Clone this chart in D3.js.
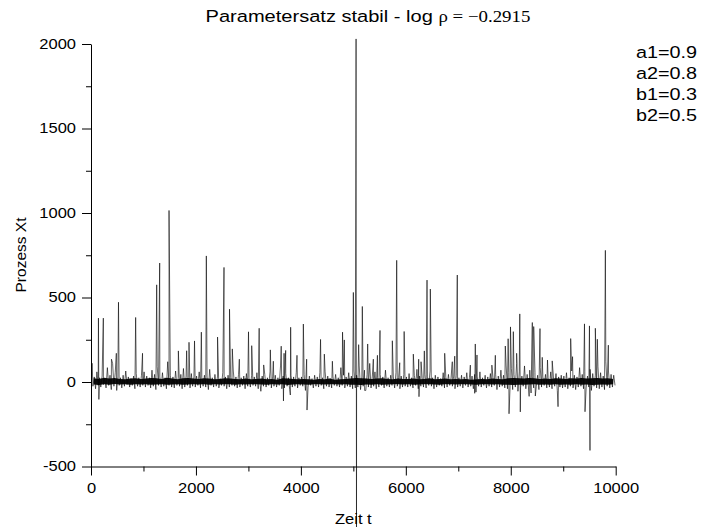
<!DOCTYPE html>
<html><head><meta charset="utf-8">
<script src="https://cdn.jsdelivr.net/npm/d3@7"></script>
<style>html,body{margin:0;padding:0;background:#fff;}svg{display:block;}</style>
</head><body>
<svg id="chart" width="702" height="527"></svg>
<script>
// ---- data ----
const title = "Parametersatz stabil - log ";
const titleMath = "\u03C1 = \u22120.2915";
const paramLabels = ["a1=0.9", "a2=0.8", "b1=0.3", "b2=0.5"];
const xTickLabels = [0, 2000, 4000, 6000, 8000, 10000];
const yTickLabels = [-500, 0, 500, 1000, 1500, 2000];
const binStep = 50;   // time units per envelope bin
const coreStep = 100; // time units per core-band bin
// upper envelope of the noise band per 50-step bin
const bandHi = [
45,30,60,25,35,20,85,40,110,55,30,25,40,65,30,20,35,50,25,40,
60,35,25,70,45,90,30,55,25,120,40,30,65,25,45,80,35,25,50,30,
35,60,25,40,30,75,25,45,35,20,55,30,40,25,65,30,45,25,35,50,
25,40,30,55,20,35,45,25,60,30,40,25,95,35,50,25,40,30,55,25,
30,45,25,35,20,40,30,55,25,60,35,20,30,45,25,85,40,30,55,35,
65,40,95,30,70,45,110,35,60,25,45,30,70,25,40,30,55,25,35,45,
30,50,25,40,75,35,25,45,30,65,25,40,30,20,55,30,45,25,35,40,
25,40,30,55,25,35,45,30,60,25,40,30,50,25,45,35,70,40,95,55,
80,45,110,60,35,95,45,70,30,55,40,85,30,45,25,60,35,50,30,40,
35,55,25,65,40,30,85,45,60,35,75,50,40,90,55,35,120,65,45,40];
// lower envelope of the noise band per 50-step bin
const bandLo = [
-25,-40,-20,-30,-15,-35,-20,-45,-25,-30,-20,-35,-25,-15,-30,-20,-40,-25,-30,-20,
-30,-20,-35,-25,-45,-20,-30,-25,-40,-20,-30,-35,-20,-25,-40,-30,-20,-35,-25,-30,
-20,-35,-25,-30,-45,-20,-30,-25,-35,-20,-25,-40,-30,-20,-25,-35,-30,-20,-40,-25,
-30,-20,-25,-40,-55,-25,-30,-20,-35,-25,-30,-20,-40,-35,-25,-45,-30,-25,-35,-20,
-25,-50,-30,-20,-35,-25,-30,-20,-40,-25,-30,-35,-20,-25,-30,-20,-35,-25,-30,-40,
-35,-30,-45,-25,-50,-30,-35,-25,-40,-30,-20,-35,-25,-30,-20,-35,-25,-40,-30,-25,
-30,-25,-35,-20,-40,-25,-30,-35,-20,-25,-40,-30,-20,-25,-35,-30,-20,-25,-40,-30,
-25,-35,-20,-30,-25,-40,-60,-25,-30,-20,-35,-25,-30,-20,-45,-30,-25,-35,-40,-30,
-45,-30,-55,-35,-25,-40,-30,-65,-35,-25,-45,-30,-20,-35,-30,-40,-25,-50,-30,-35,
-30,-40,-25,-35,-45,-30,-25,-40,-35,-30,-50,-25,-35,-40,-30,-45,-25,-35,-30,-20];
// dense dark core of the band per 100-step bin
const coreHi = [
22,18,25,20,24,18,16,20,22,18, 20,24,22,18,25,20,16,22,24,20,
18,22,20,16,18,22,20,18,16,20, 16,18,20,16,18,14,22,20,18,16,
18,16,14,18,16,20,14,16,18,20, 24,22,20,18,20,22,18,16,20,18,
18,20,16,18,22,16,18,20,16,18, 16,18,14,16,18,16,20,18,16,22,
24,22,20,24,22,18,20,18,22,20, 18,22,20,24,20,22,24,20,22,18];
const coreLo = [
-15,-18,-14,-16,-12,-15,-14,-16,-13,-15, -14,-16,-15,-13,-17,-15,-14,-16,-15,-13,
-15,-13,-16,-14,-15,-13,-14,-16,-13,-15, -14,-13,-15,-16,-14,-15,-13,-18,-15,-13,
-15,-16,-13,-14,-15,-13,-14,-15,-13,-16, -16,-18,-15,-17,-14,-16,-15,-14,-13,-15,
-14,-16,-15,-13,-14,-15,-16,-13,-14,-15, -13,-14,-15,-16,-14,-13,-15,-14,-16,-17,
-18,-16,-17,-15,-14,-16,-15,-17,-14,-16, -15,-16,-14,-17,-15,-18,-16,-15,-17,-14];
// isolated spikes: time and value
const spikeT = [20,142,150,235,390,483,490,524,851,982,1252,1309,1487,1665,1823,1868,1973,2103,2198,2412,2535,2640,2693,2827,
3002,3063,3205,3291,3418,3475,3625,3668,3680,3710,3799,3805,3926,4047,4110,4117,4375,4447,4600,4794,4828,5000,5052,5060,5101,5171,5215,5273,5381,5459,5508,
5743,5826,5884,5968,6143,6245,6251,6290,6353,6404,6467,6741,6886,6932,6981,7230,7313,7324,7356,7640,7706,7896,7950,7967,7995,8049,8112,8172,8182,8350,8411,8437,8468,8557,8600,8700,8790,
8901,9142,9178,9405,9415,9500,9510,9612,9650,9803,9860];
const spikeV = [111,378,-103,378,135,170,-50,472,382,170,575,704,1015,184,185,235,243,295,746,266,678,431,196,135,
297,215,318,101,190,123,212,-112,170,187,-77,324,158,343,135,-166,252,165,123,295,249,530,2030,-870,221,447,-50,225,135,158,305,
244,720,114,299,165,135,-87,120,184,603,550,170,120,153,633,100,-67,225,160,100,158,213,256,-188,326,298,170,403,-177,-85,352,328,-83,316,146,130,125,
-146,257,150,344,-176,332,-405,318,253,779,218];

// ---- drawing ----
const svg = d3.select("#chart");
const x = d3.scaleLinear().domain([0, 10000]).range([91, 615.7]);
const y = d3.scaleLinear().domain([-500, 2000]).range([466.5, 44]);
const SX = 1.18; // horizontal stretch of the original lettering

// dark core of the band
const core = coreHi.map((h, i) => ({t: i * coreStep + coreStep / 2, hi: h, lo: coreLo[i]}));
svg.append("path").datum(core)
  .attr("fill", "#111").attr("stroke", "none")
  .attr("d", d3.area().x(d => x(d.t)).y0(d => y(d.lo)).y1(d => y(d.hi)));

// series points
const pts = [];
bandHi.forEach((v, i) => pts.push({t: i * binStep + 12, v: v}));
bandLo.forEach((v, i) => pts.push({t: i * binStep + 37, v: v}));
spikeT.forEach((t, i) => pts.push({t: t, v: spikeV[i]}));
pts.sort((a, b) => a.t - b.t);

svg.append("path").datum(pts)
  .attr("fill", "none").attr("stroke", "#000").attr("stroke-width", 0.6)
  .attr("stroke-linejoin", "round")
  .attr("d", d3.line().x(d => x(d.t)).y(d => y(d.v)));

const font = "'Liberation Sans', Arial, sans-serif";
const fmt = d => String(d);
// y axis
const gy = svg.append("g").attr("transform", `translate(${x(0)},0)`);
gy.call(d3.axisLeft(y).tickValues(yTickLabels).tickFormat(fmt).tickSize(9).tickSizeOuter(0).tickPadding(6));
gy.selectAll("text").attr("font-family", font).attr("font-size", 14).attr("fill", "#000")
  .attr("transform", `scale(${SX},1)`).attr("x", -15 / SX);
gy.append("g").call(d3.axisLeft(y).tickValues(d3.range(-250, 2000, 500)).tickSize(5).tickFormat(""))
  .select(".domain").remove();
// x axis
const gx = svg.append("g").attr("transform", `translate(0,${y(-500)})`);
gx.call(d3.axisBottom(x).tickValues(xTickLabels).tickFormat(fmt).tickSize(9).tickSizeOuter(0).tickPadding(8));
gx.selectAll(".tick text").attr("font-family", font).attr("font-size", 14).attr("fill", "#000")
  .attr("transform", `scale(${SX},1)`);
gx.append("g").call(d3.axisBottom(x).tickValues(d3.range(1000, 10000, 2000)).tickSize(5).tickFormat(""))
  .select(".domain").remove();
svg.selectAll(".domain, .tick line").attr("stroke", "#000").attr("stroke-width", 1);

// axis titles
svg.append("g").attr("transform", `translate(${(x(0) + x(10000)) / 2},524) scale(${SX},1)`)
  .append("text").attr("text-anchor", "middle").attr("font-family", font).attr("font-size", 14)
  .text("Zeit t");
svg.append("text").attr("transform", "translate(26,255) rotate(-90)")
  .attr("text-anchor", "middle").attr("font-family", font).attr("font-size", 15.5)
  .text("Prozess Xt");

// title
const tt = svg.append("g").attr("transform", `translate(368,22) scale(${SX},1)`)
  .append("text").attr("text-anchor", "middle").attr("font-family", font).attr("font-size", 17);
tt.append("tspan").text(title);
tt.append("tspan").attr("font-family", "'Liberation Serif', 'Times New Roman', serif").attr("font-size", 16).text(titleMath);

// parameter legend
paramLabels.forEach((s, i) => {
  svg.append("g").attr("transform", `translate(636,${57.5 + i * 21}) scale(1.2,1)`)
    .append("text").attr("font-family", font).attr("font-size", 16.5).text(s);
});
</script>
</body></html>
